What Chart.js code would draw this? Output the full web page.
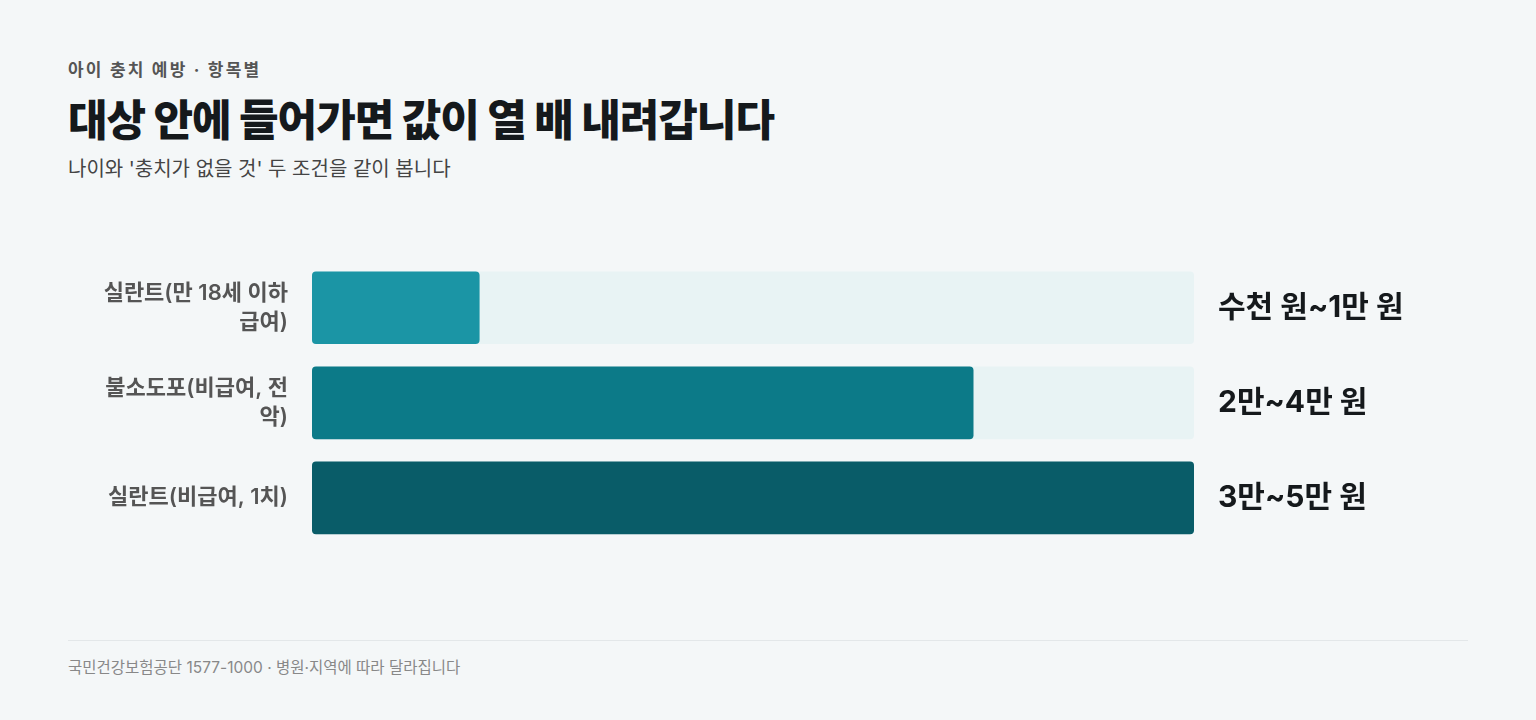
<!DOCTYPE html>
<html><head><meta charset="utf-8">
<script src="https://cdn.jsdelivr.net/npm/chart.js@4"></script>
<style>
body{margin:0;background:#f4f7f8;font-family:Inter,"Noto Sans CJK KR",sans-serif;width:1536px;height:720px;position:relative;overflow:hidden}
.k{position:absolute;left:68px;top:56px;font-size:17px;font-weight:700;color:#555;letter-spacing:2.2px}
.t{position:absolute;left:68px;top:86px;font-size:43px;font-weight:800;color:#15191c;letter-spacing:-1px}
.s{position:absolute;left:68px;top:153px;font-size:20px;color:#444}
#c{position:absolute;left:68px;top:230px}
.f{position:absolute;left:68px;top:640px;width:1400px;border-top:1px solid #e3e7e9;padding-top:14px;font-size:15.5px;color:#888}
</style></head><body>
<div class="k">아이 충치 예방 · 항목별</div>
<div class="t">대상 안에 들어가면 값이 열 배 내려갑니다</div>
<div class="s">나이와 '충치가 없을 것' 두 조건을 같이 봅니다</div>
<canvas id="c" width="1400" height="360"></canvas>
<div class="f">국민건강보험공단 1577-1000 · 병원·지역에 따라 달라집니다</div>
<script>
const categories = [['실란트(만 18세 이하','급여)'], ['불소도포(비급여, 전','악)'], ['실란트(비급여, 1치)']];
const values = [19, 75, 100];
const valueLabels = ['수천 원~1만 원', '2만~4만 원', '3만~5만 원'];
const colors = ['#1b95a5', '#0c7a88', '#095c68'];

const valueLabelPlugin = {
  id: 'valueLabels',
  afterDatasetsDraw(chart) {
    const ctx = chart.ctx, meta = chart.getDatasetMeta(1);
    ctx.save();
    ctx.font = '700 30px Inter, "Noto Sans CJK KR"';
    ctx.fillStyle = '#15191c';
    ctx.textBaseline = 'middle';
    meta.data.forEach((bar, i) => ctx.fillText(valueLabels[i], chart.chartArea.right + 24, bar.y));
    ctx.restore();
  }
};

new Chart(document.getElementById('c'), {
  type: 'bar',
  data: {
    labels: categories,
    datasets: [
      {data: values.map(() => 100), backgroundColor: '#e8f3f4', borderRadius: 4, borderSkipped: false, grouped: false, order: 2},
      {data: values, backgroundColor: colors, borderRadius: 4, borderSkipped: false, grouped: false, order: 1}
    ]
  },
  options: {
    indexAxis: 'y', responsive: false, animation: false, devicePixelRatio: 1,
    categoryPercentage: 84 / 110, barPercentage: 1,
    layout: {padding: {top: 15, bottom: 15, right: 274}},
    plugins: {legend: {display: false}, tooltip: {enabled: false}},
    scales: {
      x: {display: false, min: 0, max: 100},
      y: {
        grid: {display: false}, border: {display: false},
        afterFit(s) { s.width = 244; },
        ticks: {padding: 16, color: '#555', font: {size: 22, weight: '600', family: 'Inter, "Noto Sans CJK KR"', lineHeight: 1.3}}
      }
    }
  },
  plugins: [valueLabelPlugin]
});
</script>
</body></html>
